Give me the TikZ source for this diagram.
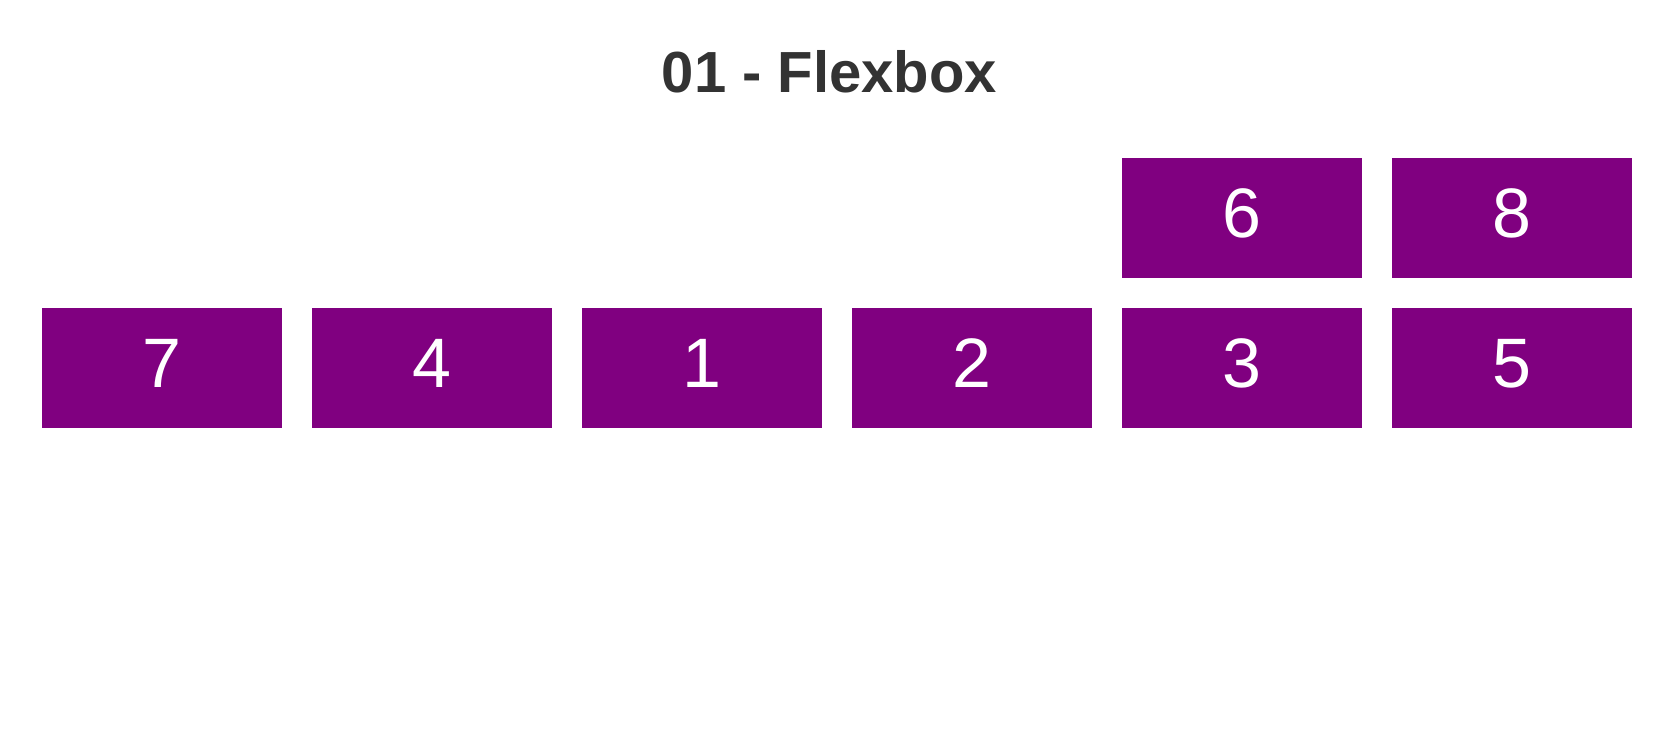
\documentclass[tikz,border=0pt]{standalone}
\usepackage{fontspec}
\setmainfont{Liberation Sans}
\usetikzlibrary{positioning}
\definecolor{Plum}{HTML}{800080}
\definecolor{Ink}{HTML}{333333}
\tikzset{
  item/.style={fill=Plum,minimum width=120pt,minimum height=60pt,inner sep=0pt,outer sep=0pt,text depth=5pt,text=white,font=\fontsize{35pt}{42pt}\selectfont},
  heading/.style={font=\fontsize{29pt}{35pt}\selectfont\bfseries,text=Ink,inner sep=0pt}
}
\begin{document}
\begin{tikzpicture}[node distance=15pt and 15pt]
  \useasboundingbox (0,0) rectangle (829.5pt,-375pt);
  \node[heading] (title) at (414.75pt,-35.9pt) {01 - Flexbox};
  \node[item,anchor=north west] (n7) at (21pt,-154pt) {7};
  \node[item,right=of n7] (n4) {4};
  \node[item,right=of n4] (n1) {1};
  \node[item,right=of n1] (n2) {2};
  \node[item,right=of n2] (n3) {3};
  \node[item,right=of n3] (n5) {5};
  \node[item,above=of n3] (n6) {6};
  \node[item,above=of n5] (n8) {8};
\end{tikzpicture}
\end{document}
